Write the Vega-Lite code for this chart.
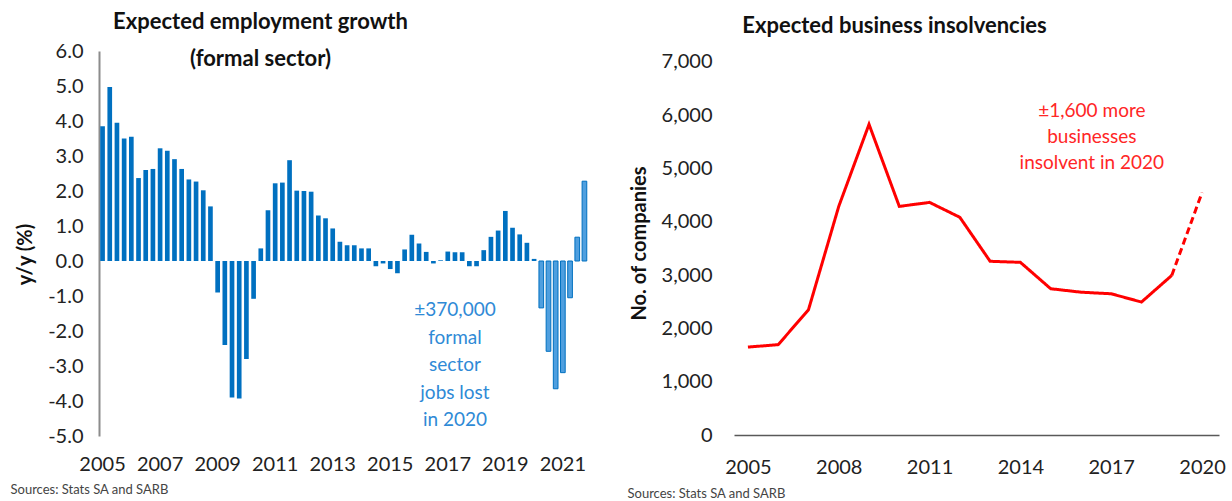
{
  "$schema": "https://vega.github.io/schema/vega-lite/v6.json",
  "background": "white",
  "padding": {"left": 10, "top": 11, "right": 5, "bottom": 0},
  "spacing": 39,
  "align": "none",
  "config": {
    "view": {"stroke": null},
    "font": "Lato",
    "axis": {"labelFont": "Lato", "titleFont": "Lato"},
    "title": {"font": "Lato"},
    "text": {"font": "Lato"}
  },
  "datasets": {
    "jobs": [
      {"q": "2005Q1", "v": 3.85, "t": "actual"},
      {"q": "2005Q2", "v": 4.97, "t": "actual"},
      {"q": "2005Q3", "v": 3.95, "t": "actual"},
      {"q": "2005Q4", "v": 3.5, "t": "actual"},
      {"q": "2006Q1", "v": 3.55, "t": "actual"},
      {"q": "2006Q2", "v": 2.37, "t": "actual"},
      {"q": "2006Q3", "v": 2.6, "t": "actual"},
      {"q": "2006Q4", "v": 2.63, "t": "actual"},
      {"q": "2007Q1", "v": 3.22, "t": "actual"},
      {"q": "2007Q2", "v": 3.15, "t": "actual"},
      {"q": "2007Q3", "v": 2.91, "t": "actual"},
      {"q": "2007Q4", "v": 2.63, "t": "actual"},
      {"q": "2008Q1", "v": 2.33, "t": "actual"},
      {"q": "2008Q2", "v": 2.27, "t": "actual"},
      {"q": "2008Q3", "v": 2.02, "t": "actual"},
      {"q": "2008Q4", "v": 1.56, "t": "actual"},
      {"q": "2009Q1", "v": -0.9, "t": "actual"},
      {"q": "2009Q2", "v": -2.4, "t": "actual"},
      {"q": "2009Q3", "v": -3.9, "t": "actual"},
      {"q": "2009Q4", "v": -3.93, "t": "actual"},
      {"q": "2010Q1", "v": -2.8, "t": "actual"},
      {"q": "2010Q2", "v": -1.08, "t": "actual"},
      {"q": "2010Q3", "v": 0.36, "t": "actual"},
      {"q": "2010Q4", "v": 1.45, "t": "actual"},
      {"q": "2011Q1", "v": 2.22, "t": "actual"},
      {"q": "2011Q2", "v": 2.24, "t": "actual"},
      {"q": "2011Q3", "v": 2.88, "t": "actual"},
      {"q": "2011Q4", "v": 2.01, "t": "actual"},
      {"q": "2012Q1", "v": 2.0, "t": "actual"},
      {"q": "2012Q2", "v": 1.98, "t": "actual"},
      {"q": "2012Q3", "v": 1.3, "t": "actual"},
      {"q": "2012Q4", "v": 1.22, "t": "actual"},
      {"q": "2013Q1", "v": 0.93, "t": "actual"},
      {"q": "2013Q2", "v": 0.55, "t": "actual"},
      {"q": "2013Q3", "v": 0.45, "t": "actual"},
      {"q": "2013Q4", "v": 0.45, "t": "actual"},
      {"q": "2014Q1", "v": 0.36, "t": "actual"},
      {"q": "2014Q2", "v": 0.36, "t": "actual"},
      {"q": "2014Q3", "v": -0.15, "t": "actual"},
      {"q": "2014Q4", "v": -0.07, "t": "actual"},
      {"q": "2015Q1", "v": -0.23, "t": "actual"},
      {"q": "2015Q2", "v": -0.35, "t": "actual"},
      {"q": "2015Q3", "v": 0.33, "t": "actual"},
      {"q": "2015Q4", "v": 0.75, "t": "actual"},
      {"q": "2016Q1", "v": 0.5, "t": "actual"},
      {"q": "2016Q2", "v": 0.26, "t": "actual"},
      {"q": "2016Q3", "v": -0.07, "t": "actual"},
      {"q": "2016Q4", "v": 0.02, "t": "actual"},
      {"q": "2017Q1", "v": 0.27, "t": "actual"},
      {"q": "2017Q2", "v": 0.25, "t": "actual"},
      {"q": "2017Q3", "v": 0.25, "t": "actual"},
      {"q": "2017Q4", "v": -0.15, "t": "actual"},
      {"q": "2018Q1", "v": -0.15, "t": "actual"},
      {"q": "2018Q2", "v": 0.31, "t": "actual"},
      {"q": "2018Q3", "v": 0.69, "t": "actual"},
      {"q": "2018Q4", "v": 0.87, "t": "actual"},
      {"q": "2019Q1", "v": 1.43, "t": "actual"},
      {"q": "2019Q2", "v": 0.95, "t": "actual"},
      {"q": "2019Q3", "v": 0.76, "t": "actual"},
      {"q": "2019Q4", "v": 0.52, "t": "actual"},
      {"q": "2020Q1", "v": 0.06, "t": "actual"},
      {"q": "2020Q2", "v": -1.34, "t": "forecast"},
      {"q": "2020Q3", "v": -2.58, "t": "forecast"},
      {"q": "2020Q4", "v": -3.65, "t": "forecast"},
      {"q": "2021Q1", "v": -3.19, "t": "forecast"},
      {"q": "2021Q2", "v": -1.05, "t": "forecast"},
      {"q": "2021Q3", "v": 0.68, "t": "forecast"},
      {"q": "2021Q4", "v": 2.28, "t": "forecast"}
    ],
    "jobsNote": [
      {"q": "2017Q2", "v": -1.4, "label": "±370,000\nformal\nsector\njobs lost\nin 2020"}
    ],
    "insolv": [
      {"year": 2005, "v": 1650, "s": "actual"},
      {"year": 2006, "v": 1695, "s": "actual"},
      {"year": 2007, "v": 2350, "s": "actual"},
      {"year": 2008, "v": 4290, "s": "actual"},
      {"year": 2009, "v": 5830, "s": "actual"},
      {"year": 2010, "v": 4290, "s": "actual"},
      {"year": 2011, "v": 4365, "s": "actual"},
      {"year": 2012, "v": 4085, "s": "actual"},
      {"year": 2013, "v": 3260, "s": "actual"},
      {"year": 2014, "v": 3240, "s": "actual"},
      {"year": 2015, "v": 2745, "s": "actual"},
      {"year": 2016, "v": 2680, "s": "actual"},
      {"year": 2017, "v": 2650, "s": "actual"},
      {"year": 2018, "v": 2495, "s": "actual"},
      {"year": 2019, "v": 2995, "s": "actual"},
      {"year": 2019, "v": 2995, "s": "forecast"},
      {"year": 2020, "v": 4550, "s": "forecast"}
    ],
    "insolvNote": [
      {"year": 2016.36, "v": 6080, "label": "±1,600 more\nbusinesses\ninsolvent in 2020"}
    ]
  },
  "hconcat": [
    {
      "width": 489,
      "height": 385,
      "title": {
        "text": ["Expected employment growth", "(formal sector)"],
        "fontSize": 22,
        "fontWeight": "bold",
        "color": "#111111",
        "anchor": "middle",
        "baseline": "top",
        "dx": -83,
        "offset": -30,
        "lineHeight": 37
      },
      "layer": [
        {
          "data": {"name": "jobs"},
          "mark": {"type": "bar", "stroke": "#0070C0"},
          "encoding": {
            "x": {
              "field": "q",
              "type": "nominal",
              "sort": "ascending",
              "scale": {"paddingInner": 0.35, "paddingOuter": 0.17},
              "axis": {
                "values": ["2005Q1", "2007Q1", "2009Q1", "2011Q1", "2013Q1", "2015Q1", "2017Q1", "2019Q1", "2021Q1"],
                "labelExpr": "slice(datum.value, 0, 4)",
                "labelAngle": 0,
                "labelOverlap": false,
                "domain": false,
                "ticks": false,
                "grid": false,
                "labelFontSize": 20,
                "labelPadding": 18,
                "labelColor": "#222222",
                "title": "Sources: Stats SA and SARB",
                "titleFontSize": 13,
                "titleFontWeight": "normal",
                "titleColor": "#444444",
                "titleAlign": "left",
                "titleBaseline": "top",
                "titleX": -89,
                "titleY": 47
              }
            },
            "y": {
              "field": "v",
              "type": "quantitative",
              "scale": {"domain": [-5, 6], "nice": false},
              "axis": {
                "values": [-5, -4, -3, -2, -1, 0, 1, 2, 3, 4, 5, 6],
                "tickCount": 12,
                "labelExpr": "(datum.value < 0 ? '-' : '') + format(abs(datum.value), '.1f')",
                "labelOverlap": false,
                "domain": true,
                "domainColor": "#8c8c8c",
                "domainWidth": 2,
                "ticks": false,
                "grid": false,
                "labelFontSize": 20,
                "labelPadding": 16,
                "labelColor": "#222222",
                "title": "y/y (%)",
                "titleFontSize": 20,
                "titleFontWeight": "bold",
                "titleColor": "#111111",
                "titlePadding": 12,
                "titleY": 203
              }
            },
            "color": {
              "field": "t",
              "type": "nominal",
              "scale": {"domain": ["actual", "forecast"], "range": ["#0070C0", "#4f9fdf"]},
              "legend": null
            },
            "strokeWidth": {
              "condition": {"test": "datum.t === 'forecast'", "value": 1},
              "value": 0
            }
          }
        },
        {
          "mark": {"type": "rule", "color": "#595959", "strokeWidth": 1.5},
          "encoding": {"y": {"datum": 0}}
        },
        {
          "data": {"name": "jobsNote"},
          "mark": {
            "type": "text",
            "color": "#2f8ad6",
            "fontSize": 19,
            "align": "center",
            "baseline": "middle",
            "lineBreak": "\n",
            "lineHeight": 27.5
          },
          "encoding": {
            "x": {"field": "q", "type": "nominal", "sort": "ascending"},
            "y": {"field": "v", "type": "quantitative"},
            "text": {"field": "label"}
          }
        }
      ]
    },
    {
      "width": 485,
      "height": 384,
      "title": {
        "text": "Expected business insolvencies",
        "fontSize": 22,
        "fontWeight": "bold",
        "color": "#111111",
        "anchor": "middle",
        "dx": -82,
        "offset": 13
      },
      "layer": [
        {
          "data": {"name": "insolv"},
          "mark": {"type": "line", "color": "#ff0000", "strokeWidth": 3},
          "encoding": {
            "x": {
              "field": "year",
              "type": "quantitative",
              "scale": {"domain": [2004.54, 2020.56], "nice": false, "zero": false},
              "axis": {
                "values": [2005, 2008, 2011, 2014, 2017, 2020],
                "format": "d",
                "labelOverlap": false,
                "domain": true,
                "domainColor": "#595959",
                "domainWidth": 1.5,
                "ticks": false,
                "grid": false,
                "labelFontSize": 20,
                "labelPadding": 22,
                "labelColor": "#222222",
                "title": "Sources: Stats SA and SARB",
                "titleFontSize": 13,
                "titleFontWeight": "normal",
                "titleColor": "#444444",
                "titleAlign": "left",
                "titleBaseline": "top",
                "titleX": -107,
                "titleY": 52
              }
            },
            "y": {
              "field": "v",
              "type": "quantitative",
              "scale": {"domain": [0, 7206], "nice": false},
              "axis": {
                "values": [0, 1000, 2000, 3000, 4000, 5000, 6000, 7000],
                "tickCount": 8,
                "format": ",.0f",
                "labelOverlap": false,
                "domain": false,
                "ticks": false,
                "grid": false,
                "labelFontSize": 20,
                "labelPadding": 22,
                "labelColor": "#222222",
                "title": "No. of companies",
                "titleFontSize": 20,
                "titleFontWeight": "bold",
                "titleColor": "#111111",
                "titlePadding": 12
              }
            },
            "strokeDash": {
              "field": "s",
              "type": "nominal",
              "scale": {"domain": ["actual", "forecast"], "range": [[1, 0], [7, 4]]},
              "legend": null
            }
          }
        },
        {
          "mark": {"type": "rule", "color": "#595959", "strokeWidth": 1.5},
          "encoding": {
            "x": {"datum": 2004.54},
            "y": {"datum": 0},
            "y2": {"datum": 7000}
          }
        },
        {
          "data": {"name": "insolvNote"},
          "mark": {
            "type": "text",
            "color": "#ff2626",
            "fontSize": 19,
            "align": "center",
            "baseline": "middle",
            "lineBreak": "\n",
            "lineHeight": 26
          },
          "encoding": {
            "x": {"field": "year", "type": "quantitative"},
            "y": {"field": "v", "type": "quantitative"},
            "text": {"field": "label"}
          }
        }
      ]
    }
  ]
}
